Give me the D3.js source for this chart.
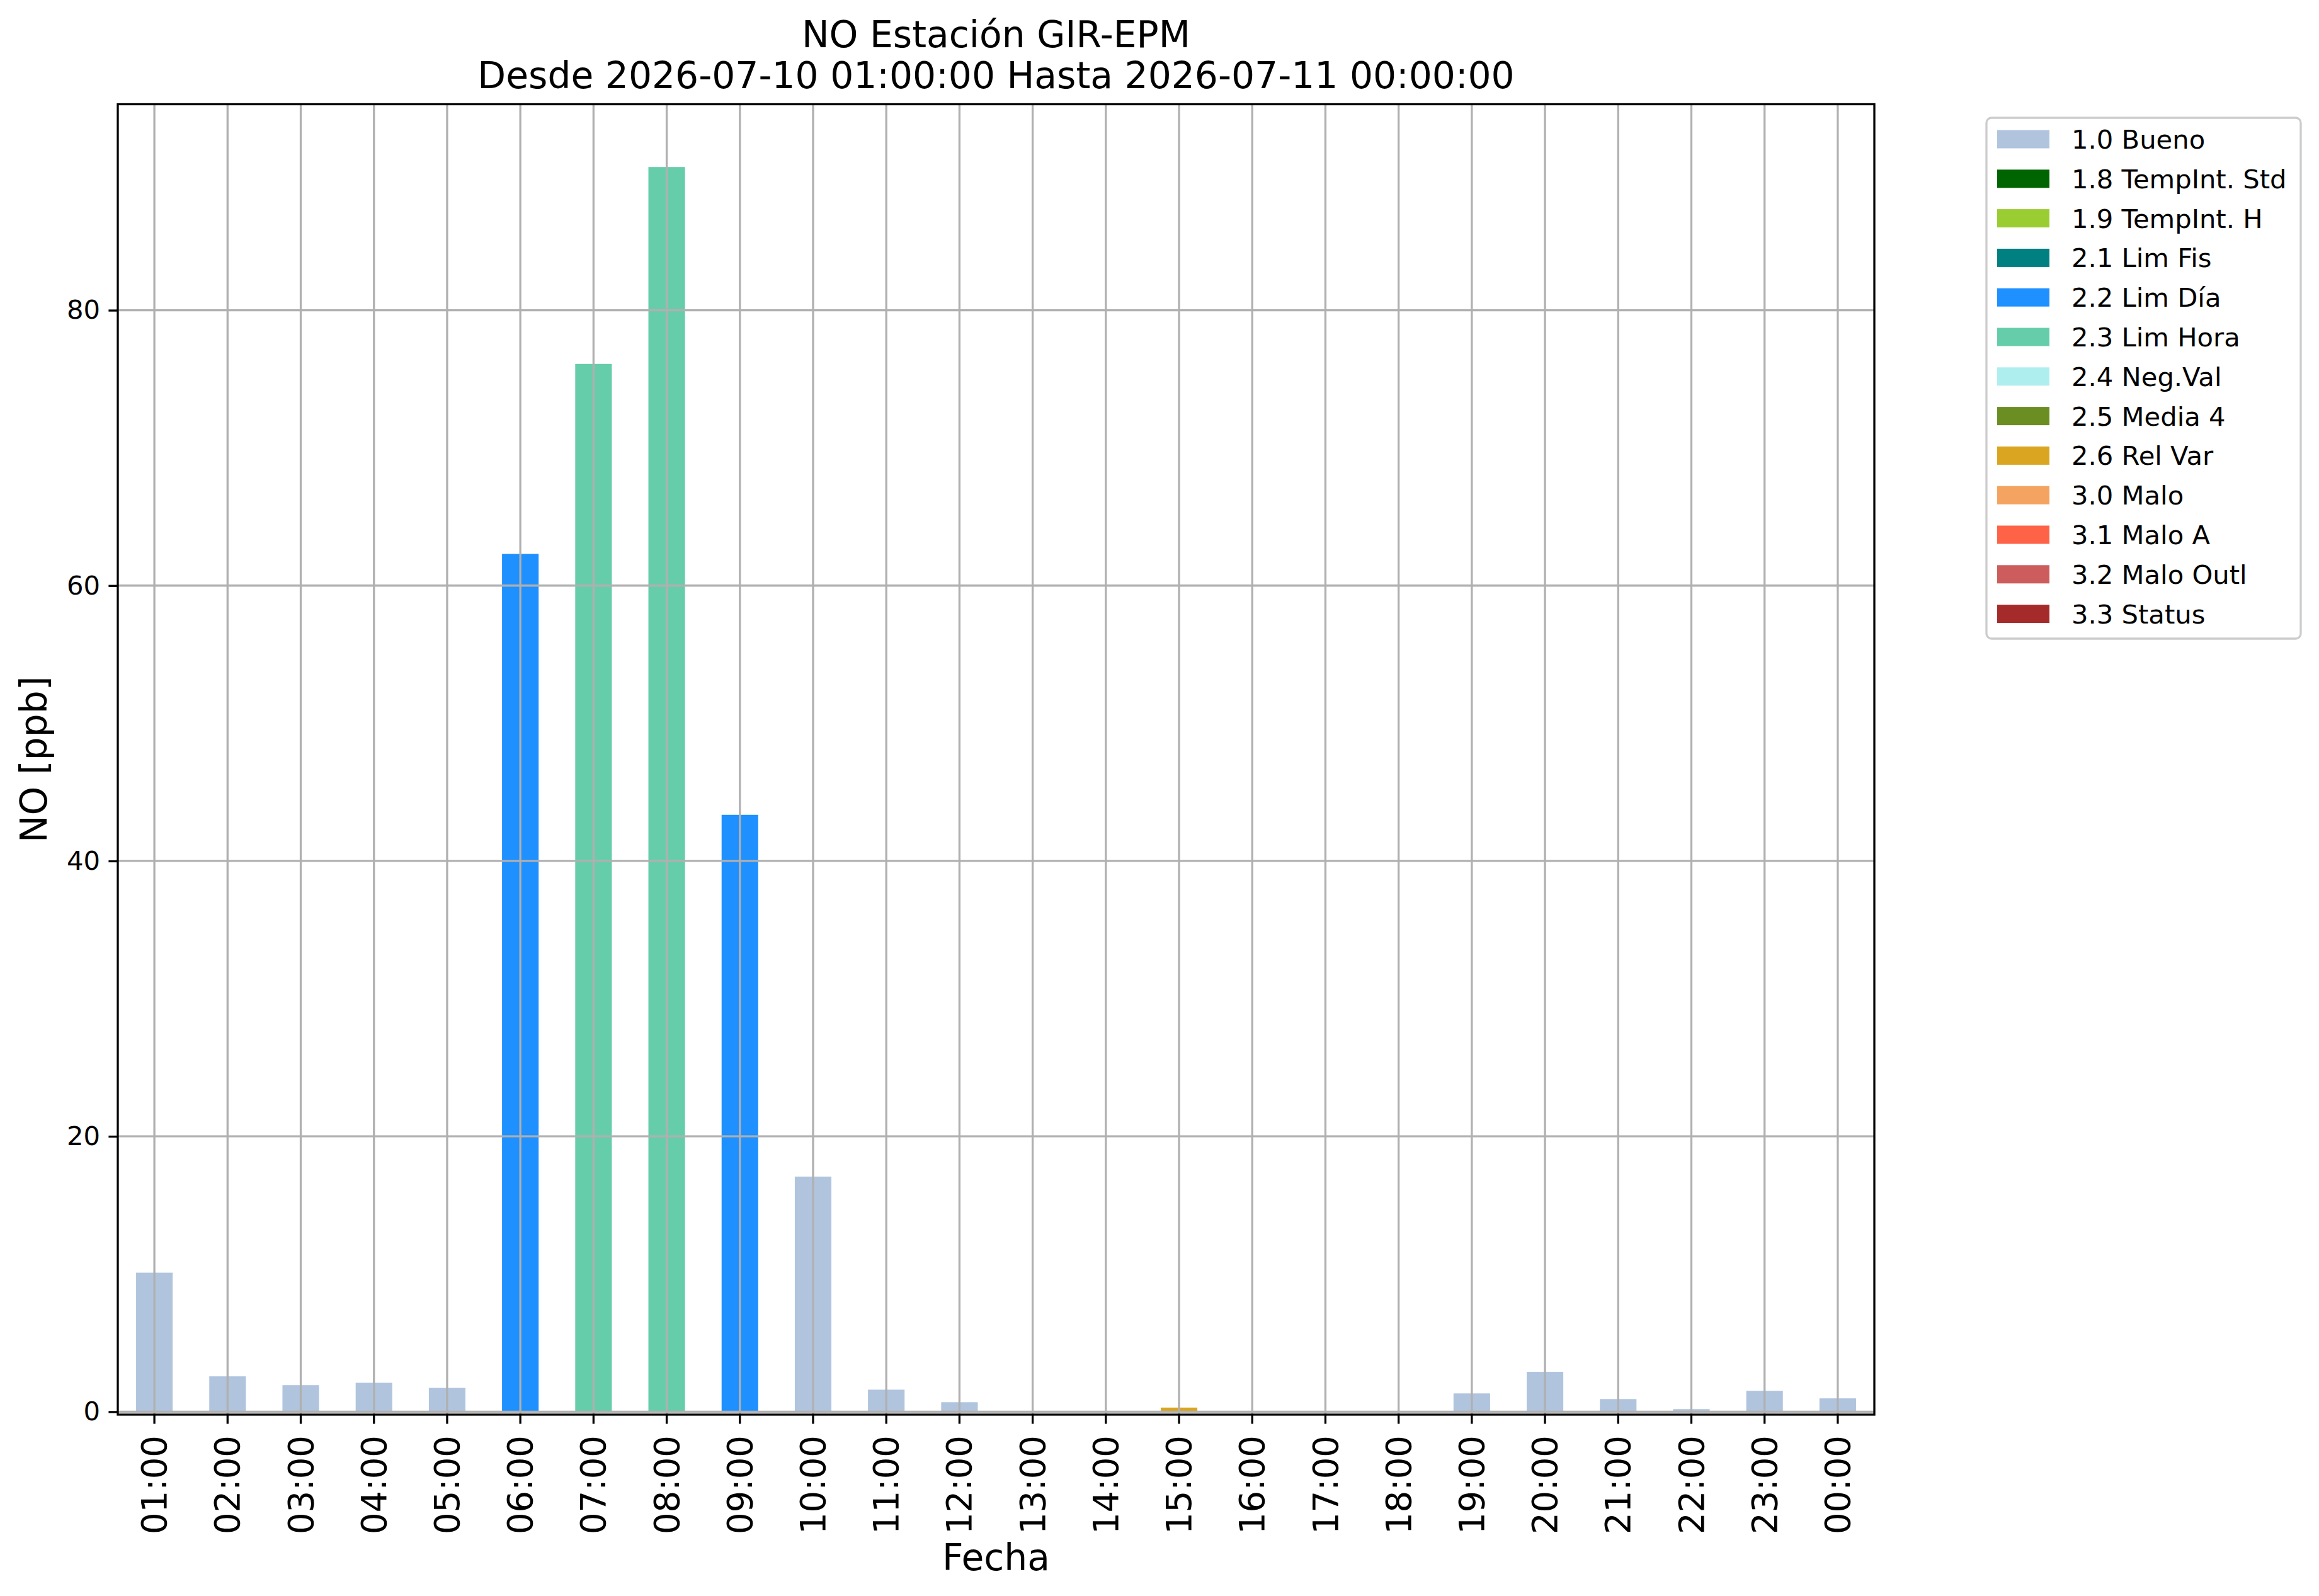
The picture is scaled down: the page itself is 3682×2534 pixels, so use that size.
<!DOCTYPE html>
<html>
<head>
<meta charset="utf-8">
<script src="https://cdn.jsdelivr.net/npm/d3@7"></script>
<style>
  body { margin: 0; background: #fff; }
  text { font-family: "DejaVu Sans", sans-serif; }
</style>
</head>
<body>
<div id="chart"></div>
<script>
// hours on the x axis
const hours = ["01:00", "02:00", "03:00", "04:00", "05:00", "06:00", "07:00", "08:00",
    "09:00", "10:00", "11:00", "12:00", "13:00", "14:00", "15:00", "16:00",
    "17:00", "18:00", "19:00", "20:00", "21:00", "22:00", "23:00", "00:00"];

// NO value per hour [ppb]
const noValues = [10.1, 2.57, 1.93, 2.1, 1.73, 62.3, 76.1, 90.4,
    43.35, 17.07, 1.6, 0.69, -0.05, 0, 0.3, -0.05,
    -0.05, -0.05, 1.33, 2.9, 0.92, 0.19, 1.52, 0.97];

// quality flag per hour (matches flagNames)
const noFlags = ["1.0 Bueno", "1.0 Bueno", "1.0 Bueno", "1.0 Bueno", "1.0 Bueno", "2.2 Lim Día", "2.3 Lim Hora", "2.3 Lim Hora",
    "2.2 Lim Día", "1.0 Bueno", "1.0 Bueno", "1.0 Bueno", "3.0 Malo", "1.0 Bueno", "2.6 Rel Var", "3.0 Malo",
    "3.0 Malo", "3.0 Malo", "1.0 Bueno", "1.0 Bueno", "1.0 Bueno", "1.0 Bueno", "1.0 Bueno", "1.0 Bueno"];

const flagNames = ["1.0 Bueno", "1.8 TempInt. Std", "1.9 TempInt. H", "2.1 Lim Fis", "2.2 Lim Día",
    "2.3 Lim Hora", "2.4 Neg.Val", "2.5 Media 4", "2.6 Rel Var", "3.0 Malo",
    "3.1 Malo A", "3.2 Malo Outl", "3.3 Status"];

const flagColors = ["#B0C4DE", "#006400", "#9ACD32", "#008080", "#1E90FF",
    "#66CDAA", "#AFEEEE", "#6B8E23", "#DAA520", "#F4A460",
    "#FF6347", "#CD5C5C", "#A52A2A"];

const yTicks = [0, 20, 40, 60, 80];

const width = 3682, height = 2534;
const margin = { top: 165.5, right: 706, bottom: 288, left: 187 };
const plotRight = width - margin.right;
const plotBottom = height - margin.bottom;

const svg = d3.select("#chart")
    .append("svg")
    .attr("width", width)
    .attr("height", height);

const x = d3.scaleBand()
    .domain(hours)
    .range([margin.left, plotRight])
    .paddingInner(0.5)
    .paddingOuter(0.25);

const y = d3.scaleLinear()
    .domain([-0.21, 94.96])
    .range([plotBottom, margin.top]);

const color = d3.scaleOrdinal()
    .domain(flagNames)
    .range(flagColors);

const data = hours.map((h, i) => ({ hour: h, value: noValues[i], flag: noFlags[i] }));

// bars
svg.append("g")
    .selectAll("rect")
    .data(data.filter(d => d.value !== 0))
    .join("rect")
    .attr("x", d => x(d.hour))
    .attr("width", x.bandwidth())
    .attr("y", d => y(Math.max(0, d.value)))
    .attr("height", d => Math.max(1, Math.abs(y(d.value) - y(0))))
    .attr("fill", d => color(d.flag));

// grid (drawn above the bars, like matplotlib)
const grid = svg.append("g")
    .attr("stroke", "#b0b0b0")
    .attr("stroke-width", 3.3);

grid.selectAll("line.v")
    .data(hours)
    .join("line")
    .attr("class", "v")
    .attr("x1", d => x(d) + x.bandwidth() / 2)
    .attr("x2", d => x(d) + x.bandwidth() / 2)
    .attr("y1", margin.top)
    .attr("y2", plotBottom);

grid.selectAll("line.h")
    .data(yTicks)
    .join("line")
    .attr("class", "h")
    .attr("x1", margin.left)
    .attr("x2", plotRight)
    .attr("y1", d => y(d))
    .attr("y2", d => y(d));

// y axis
const yAxis = svg.append("g")
    .attr("transform", `translate(${margin.left},0)`)
    .call(d3.axisLeft(y).tickValues(yTicks).tickSize(14.6).tickPadding(14.6));
yAxis.select(".domain").remove();
yAxis.selectAll(".tick line").attr("stroke", "#000").attr("stroke-width", 3.3);
yAxis.selectAll(".tick text")
    .attr("font-size", 41.7)
    .attr("fill", "#000")
    .attr("x", -28);

// x axis
const xAxis = svg.append("g")
    .attr("transform", `translate(0,${plotBottom})`)
    .call(d3.axisBottom(x).tickSize(14.6).tickPadding(0));
xAxis.select(".domain").remove();
xAxis.selectAll(".tick line").attr("stroke", "#000").attr("stroke-width", 3.3);
xAxis.selectAll(".tick text")
    .attr("font-size", 54.5)
    .attr("fill", "#000")
    .attr("text-anchor", "end")
    .attr("x", 0)
    .attr("y", 0)
    .attr("dy", "0.35em")
    .attr("transform", "translate(0,33) rotate(-90)");

// spines
svg.append("rect")
    .attr("x", margin.left)
    .attr("y", margin.top)
    .attr("width", plotRight - margin.left)
    .attr("height", plotBottom - margin.top)
    .attr("fill", "none")
    .attr("stroke", "#000")
    .attr("stroke-width", 3.3);

// titles
const title = svg.append("text")
    .attr("text-anchor", "middle")
    .attr("font-size", 58.3)
    .attr("fill", "#000");
title.append("tspan")
    .attr("x", (margin.left + plotRight) / 2)
    .attr("y", 75)
    .text("NO Estación GIR-EPM");
title.append("tspan")
    .attr("x", (margin.left + plotRight) / 2)
    .attr("y", 140)
    .text("Desde 2026-07-10 01:00:00 Hasta 2026-07-11 00:00:00");

svg.append("text")
    .attr("x", (margin.left + plotRight) / 2)
    .attr("y", 2493)
    .attr("text-anchor", "middle")
    .attr("font-size", 58.3)
    .text("Fecha");

svg.append("text")
    .attr("transform", `translate(74,${(margin.top + plotBottom) / 2}) rotate(-90)`)
    .attr("text-anchor", "middle")
    .attr("font-size", 58.3)
    .text("NO [ppb]");

// legend
const legend = svg.append("g");
legend.append("rect")
    .attr("x", 3154)
    .attr("y", 187)
    .attr("width", 499)
    .attr("height", 827)
    .attr("rx", 8)
    .attr("fill", "#fff")
    .attr("fill-opacity", 0.8)
    .attr("stroke", "#cccccc")
    .attr("stroke-width", 3.3);

const item = legend.selectAll("g.item")
    .data(flagNames)
    .join("g")
    .attr("class", "item")
    .attr("transform", (d, i) => `translate(0,${221 + i * 62.8})`);

item.append("rect")
    .attr("x", 3171)
    .attr("y", -14.5)
    .attr("width", 83)
    .attr("height", 29)
    .attr("fill", d => color(d));

item.append("text")
    .attr("x", 3289)
    .attr("y", 15)
    .attr("font-size", 41.7)
    .attr("fill", "#000")
    .text(d => d);
</script>
</body>
</html>
